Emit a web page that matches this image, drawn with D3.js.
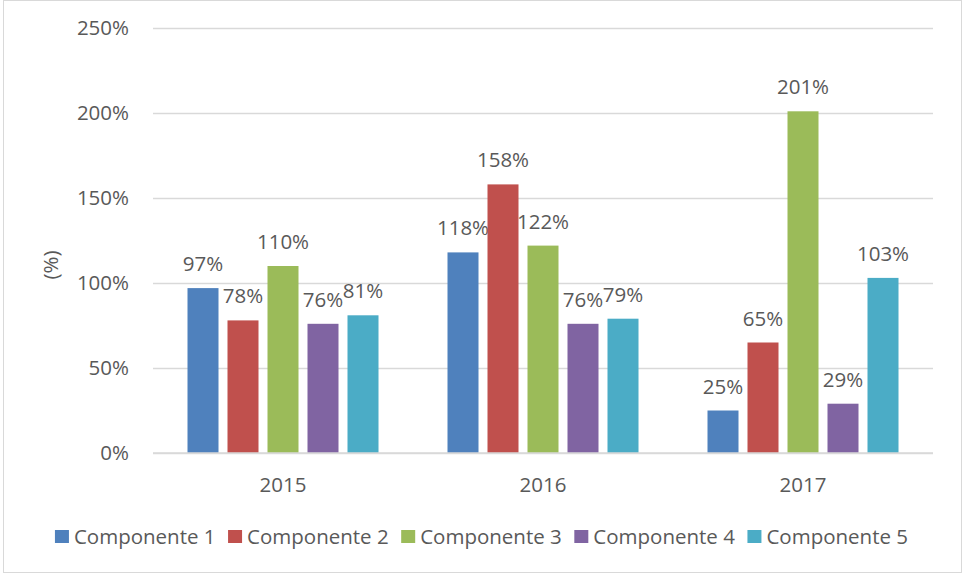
<!DOCTYPE html>
<html>
<head>
<meta charset="utf-8">
<script src="https://cdn.jsdelivr.net/npm/d3@7"></script>
<style>
  html, body { margin: 0; padding: 0; background: #fff; }
  text { font-family: "Open Sans", sans-serif; fill: #595959; }
</style>
</head>
<body>
<svg id="chart" width="963" height="575"></svg>
<script>
const categories = ["2015", "2016", "2017"];
const seriesNames = ["Componente 1", "Componente 2", "Componente 3", "Componente 4", "Componente 5"];
const comp1 = [97, 118, 25];
const comp2 = [78, 158, 65];
const comp3 = [110, 122, 201];
const comp4 = [76, 76, 29];
const comp5 = [81, 79, 103];
const yTicks = [0, 50, 100, 150, 200, 250];
const colors = ["#4f81bd", "#c0504d", "#9bbb59", "#8064a2", "#4bacc6"];

const seriesValues = [comp1, comp2, comp3, comp4, comp5];

const svg = d3.select("#chart");
const fontSize = 20.5;

// outer border
svg.append("rect")
  .attr("x", 3.5).attr("y", 0.5).attr("width", 958).attr("height", 572)
  .attr("fill", "none").attr("stroke", "#d9d9d9").attr("stroke-width", 1);

const plotLeft = 153, plotRight = 933, plotTop = 28, plotBottom = 453;

const y = d3.scaleLinear().domain([0, 250]).range([plotBottom, plotTop]);
const x0 = d3.scaleBand().domain(categories).range([plotLeft, plotRight]).paddingInner(0).paddingOuter(0);
const x1 = d3.scaleBand().domain(seriesNames).range([0, x0.bandwidth()])
  .paddingInner(0.225).paddingOuter(0.8625);

// gridlines
const yAxis = d3.axisLeft(y).tickValues(yTicks).tickSize(-(plotRight - plotLeft)).tickFormat(d => d + "%").tickPadding(24);
const gy = svg.append("g").attr("transform", `translate(${plotLeft},0)`).call(yAxis);
gy.select(".domain").remove();
gy.selectAll(".tick line").attr("stroke", "#d9d9d9").attr("stroke-width", 1.5);
gy.selectAll(".tick text").attr("font-size", fontSize).attr("fill", "#595959")
  .style("font-family", "'Open Sans', sans-serif");

// bars
const groups = svg.append("g").selectAll("g")
  .data(categories).join("g")
  .attr("transform", d => `translate(${x0(d)},0)`);

seriesNames.forEach((name, si) => {
  groups.append("rect")
    .attr("x", (d) => x1(name))
    .attr("width", x1.bandwidth())
    .attr("y", (d, i) => y(seriesValues[si][i]))
    .attr("height", (d, i) => y(0) - y(seriesValues[si][i]))
    .attr("fill", colors[si]);
  groups.append("text")
    .attr("x", d => x1(name) + x1.bandwidth() / 2)
    .attr("y", (d, i) => y(seriesValues[si][i]) - 17)
    .attr("text-anchor", "middle")
    .attr("font-size", fontSize)
    .text((d, i) => seriesValues[si][i] + "%");
});

// baseline
svg.append("line").attr("x1", plotLeft).attr("x2", plotRight)
  .attr("y1", y(0)).attr("y2", y(0)).attr("stroke", "#d9d9d9").attr("stroke-width", 1.5);

// x axis labels
const xAxis = d3.axisBottom(x0).tickSize(0).tickPadding(24);
const gx = svg.append("g").attr("transform", `translate(0,${plotBottom})`).call(xAxis);
gx.select(".domain").remove();
gx.selectAll(".tick text").attr("font-size", fontSize).attr("fill", "#595959")
  .style("font-family", "'Open Sans', sans-serif");

// y axis title
svg.append("text")
  .attr("transform", "translate(58,265) rotate(-90)")
  .attr("text-anchor", "middle")
  .attr("font-size", fontSize)
  .text("(%)");

// legend
const legend = svg.append("g");
const items = legend.selectAll("g").data(seriesNames).join("g");
items.append("rect").attr("width", 14).attr("height", 13).attr("y", -7)
  .attr("fill", (d, i) => colors[i]);
items.append("text").attr("x", 19).attr("dy", "0.35em").attr("font-size", fontSize).text(d => d);
let xpos = 0;
const positions = [];
const gap = 12.5;
items.each(function () {
  const w = d3.select(this).select("text").node().getComputedTextLength();
  positions.push(xpos);
  xpos += 19 + w + gap;
});
const total = xpos - gap;
const startX = (963 - total) / 2;
items.attr("transform", (d, i) => `translate(${startX + positions[i]},537)`);
</script>
</body>
</html>
